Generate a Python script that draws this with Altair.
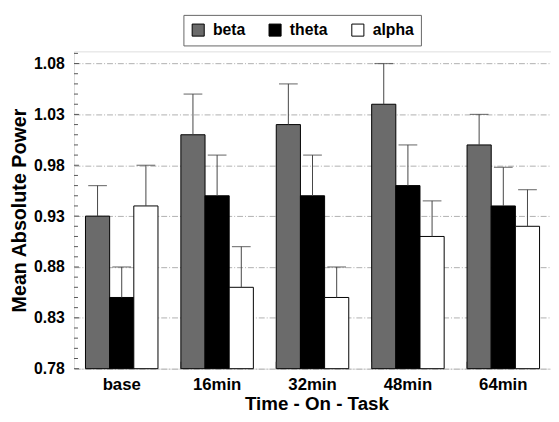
import altair as alt
import pandas as pd

times = ["base", "16min", "32min", "48min", "64min"]
series = ["beta", "theta", "alpha"]
beta = [0.93, 1.01, 1.02, 1.04, 1.00]
beta_err = [0.96, 1.05, 1.06, 1.08, 1.03]
theta = [0.85, 0.95, 0.95, 0.96, 0.94]
theta_err = [0.88, 0.99, 0.99, 1.00, 0.978]
alpha = [0.94, 0.86, 0.85, 0.91, 0.92]
alpha_err = [0.98, 0.90, 0.88, 0.945, 0.956]
colors = ["#6b6b6b", "#000000", "#ffffff"]
y_major = [0.78, 0.83, 0.88, 0.93, 0.98, 1.03, 1.08]
y_minor = [0.79, 0.80, 0.81, 0.82, 0.84, 0.85, 0.86, 0.87, 0.89, 0.90, 0.91, 0.92,
           0.94, 0.95, 0.96, 0.97, 0.99, 1.00, 1.01, 1.02, 1.04, 1.05, 1.06, 1.07, 1.09]

rows = []
for s, vals, errs in [("beta", beta, beta_err), ("theta", theta, theta_err), ("alpha", alpha, alpha_err)]:
    for t, v, e in zip(times, vals, errs):
        rows.append({"time": t, "series": s, "value": v, "err": e})
df = pd.DataFrame(rows)

W, H = 484, 322
FONT = "Liberation Sans"

xscale = alt.Scale(domain=times, paddingInner=0.24, paddingOuter=0.12)
yscale = alt.Scale(domain=[0.78, 1.092], nice=False, zero=False)
offscale = alt.Scale(domain=series, paddingInner=0, paddingOuter=0)

x_axis = alt.Axis(title="Time - On - Task", labelAngle=0, labelFontSize=17, labelFontWeight="bold",
                  labelColor="black", labelPadding=8, ticks=False, tickSize=0, domain=False,
                  titleFontSize=19, titleFontWeight="bold", titleColor="black",
                  titleX=246, titleY=41, titleBaseline="alphabetic")
y_axis = alt.Axis(title="Mean Absolute Power", values=y_major, format=".2f", labelFontSize=16,
                  labelFontWeight="bold", labelColor="black", labelPadding=10, ticks=False, tickSize=0,
                  domain=False, grid=True, gridColor="#b0b0b0", gridDash=[6, 2, 1, 2], gridWidth=1,
                  titleFontSize=20, titleFontWeight="bold", titleColor="black", titlePadding=4)

base = alt.Chart(df)

X = alt.X("time:N", scale=xscale, axis=x_axis, sort=times, title="Time - On - Task")
XO = alt.XOffset("series:N", scale=offscale, sort=series)

bars = base.mark_bar(stroke="black", strokeWidth=1).encode(
    x=X,
    xOffset=XO,
    y=alt.Y("value:Q", scale=yscale, axis=y_axis, title="Mean Absolute Power"),
    y2=alt.datum(0.78),
    fill=alt.Fill("series:N", scale=alt.Scale(domain=series, range=colors), sort=series,
                  legend=alt.Legend(title=None, orient="none", legendX=111, legendY=-37,
                                    direction="horizontal", symbolType="square", symbolSize=150,
                                    symbolStrokeColor="black", symbolStrokeWidth=1, symbolOpacity=1,
                                    labelFontSize=16, labelFontWeight="bold", labelColor="black",
                                    labelOffset=7, columnPadding=21, strokeColor="#666666",
                                    fillColor="white", padding=7)),
)

err_lines = base.mark_rule(color="#444444", strokeWidth=1).encode(
    x=X,
    xOffset=XO,
    y=alt.Y("value:Q", scale=yscale, axis=y_axis, title="Mean Absolute Power"),
    y2="err:Q",
)

caps = base.mark_tick(color="#444444", thickness=1.2, size=19, orient="horizontal").encode(
    x=X,
    xOffset=XO,
    y=alt.Y("err:Q", scale=yscale, axis=y_axis, title="Mean Absolute Power"),
)

minor_df = pd.DataFrame({"v": y_minor})
minor_ticks = alt.Chart(minor_df).mark_rule(color="#555555", strokeWidth=1).encode(
    y=alt.Y("v:Q", scale=yscale, axis=y_axis, title="Mean Absolute Power"),
    x=alt.value(0), x2=alt.value(4),
)
major_df = pd.DataFrame({"v": y_major})
major_ticks = alt.Chart(major_df).mark_rule(color="#555555", strokeWidth=1).encode(
    y=alt.Y("v:Q", scale=yscale, axis=y_axis, title="Mean Absolute Power"),
    x=alt.value(0), x2=alt.value(5),
)

xt_df = pd.DataFrame({"time": times[1:]})
x_ticks = alt.Chart(xt_df).mark_rule(color="#333333", strokeWidth=1).encode(
    x=alt.X("time:N", scale=xscale, axis=x_axis, sort=times, bandPosition=0, title="Time - On - Task"),
    y=alt.value(H - 7), y2=alt.value(H),
)

chart = alt.layer(bars, err_lines, caps, minor_ticks, major_ticks, x_ticks).properties(
    width=W, height=H,
    autosize=alt.AutoSizeParams(type="none"),
    padding={"left": 67, "top": 41, "right": 0, "bottom": 43},
).configure_view(stroke="#808080", strokeWidth=1.5).configure(font=FONT)

chart.save("out.html", embed_options={"renderer": "svg", "actions": False})
